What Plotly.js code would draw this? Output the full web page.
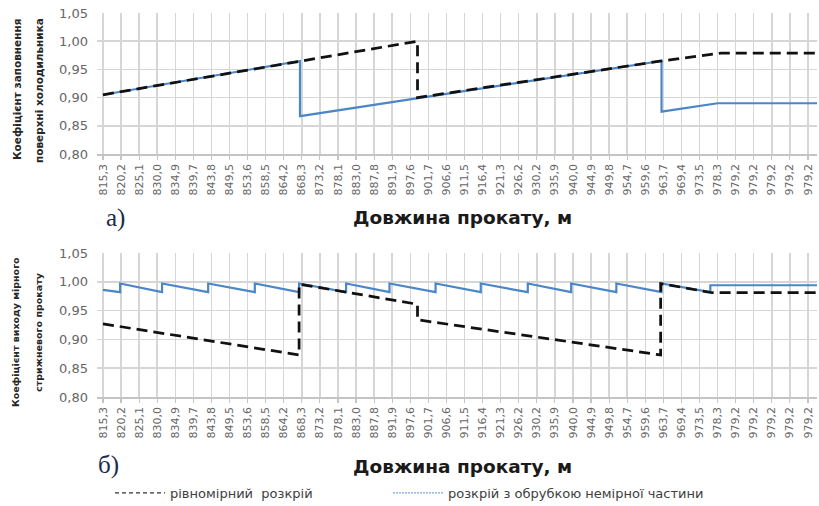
<!DOCTYPE html>
<html>
<head>
<meta charset="utf-8">
<script src="https://cdn.plot.ly/plotly-3.0.1.min.js"></script>
<style>html,body{margin:0;padding:0;background:#fff;}#chart{width:819px;height:506px;}</style>
</head>
<body>
<div id="chart"></div>
<script>
// Category tick labels (length of rolled stock, m)
const tickLabels = ['815,3','820,2','825,1','830,0','834,9','839,7','843,8','849,5','853,6','858,5',
  '864,2','868,3','873,2','878,1','883,0','887,8','891,9','897,6','901,7','906,6',
  '911,5','916,4','921,3','926,2','930,2','935,9','940,0','944,9','949,8','954,7',
  '959,6','963,7','969,4','973,5','978,3','979,2','979,2','979,2','979,2','979,2'];
const tickPos = tickLabels.map((_, i) => i);

// a) Fill factor of cooler surface — positions in category units
const aUniformX = [0, 17.4, 17.4, 30.9, 34.2, 39.5];
const aUniformY = [0.905, 1.000, 0.900, 0.965, 0.979, 0.979];
const aTrimX = [0, 10.9, 10.9, 30.9, 30.9, 34.0, 39.5];
const aTrimY = [0.905, 0.965, 0.867, 0.965, 0.875, 0.890, 0.890];

// b) Yield factor of measured bar stock
const bUniformX = [0, 10.85, 10.85, 17.4, 17.4, 30.85, 30.85, 33.7, 39.5];
const bUniformY = [0.927, 0.873, 0.996, 0.961, 0.934, 0.873, 0.997, 0.981, 0.981];
const bTrimX = [0, 0.95, 0.95, 3.27, 3.27, 5.82, 5.82, 8.4, 8.4, 10.85, 10.85, 13.45, 13.45,
  15.85, 15.85, 18.4, 18.4, 20.9, 20.9, 23.5, 23.5, 25.9, 25.9, 28.4, 28.4, 30.9, 30.9, 33.6, 33.6, 39.5];
const bTrimY = [0.986, 0.982, 0.997, 0.982, 0.997, 0.982, 0.997, 0.982, 0.997, 0.982, 0.997, 0.982, 0.997,
  0.982, 0.997, 0.982, 0.997, 0.982, 0.997, 0.982, 0.997, 0.982, 0.997, 0.982, 0.997, 0.982, 0.997, 0.982, 0.994, 0.994];

const seriesNames = ['рівномірний  розкрій', 'розкрій з обрубкою немірної частини'];
const yTickVals = [0.80, 0.85, 0.90, 0.95, 1.00, 1.05];

const BLUE = '#4a86c8';
const BLACK = '#111111';
const dashLine = {color: BLACK, width: 2.75, dash: '11px,6px'};
const blueLine = {color: BLUE, width: 2.2};

const traces = [
  {x: aTrimX, y: aTrimY, xaxis: 'x', yaxis: 'y', mode: 'lines', line: blueLine, showlegend: false, hoverinfo: 'skip'},
  {x: aUniformX, y: aUniformY, xaxis: 'x', yaxis: 'y', mode: 'lines', line: dashLine, showlegend: false, hoverinfo: 'skip'},
  {x: bTrimX, y: bTrimY, xaxis: 'x2', yaxis: 'y2', mode: 'lines', line: blueLine, showlegend: false, hoverinfo: 'skip'},
  {x: bUniformX, y: bUniformY, xaxis: 'x2', yaxis: 'y2', mode: 'lines', line: dashLine, showlegend: false, hoverinfo: 'skip'},
  {x: [null], y: [null], xaxis: 'x2', yaxis: 'y2', mode: 'lines', name: seriesNames[0], legend: 'legend',
   line: {color: '#333', width: 1.3, dash: '4px,3px'}},
  {x: [null], y: [null], xaxis: 'x2', yaxis: 'y2', mode: 'lines', name: seriesNames[1], legend: 'legend2',
   line: {color: '#7da6d8', width: 1.3, dash: '2px,1px'}}
];

const FONT = 'DejaVu Sans, Liberation Sans, Arial, sans-serif';
const xCommon = {
  range: [-0.33, 39.5], tickvals: tickPos, ticktext: tickLabels, tickangle: -90,
  showgrid: true, gridcolor: '#d6d6d6', gridwidth: 1.5, zeroline: false,
  showline: true, linecolor: '#c4c4c4', linewidth: 1.5,
  ticks: 'outside', ticklen: 4, tickcolor: '#c4c4c4', tickwidth: 1.2,
  tickfont: {family: FONT, size: 11, color: '#666666'}, fixedrange: true
};
const yCommon = {
  range: [0.80, 1.05], tickvals: yTickVals, tickformat: '.2f',
  showgrid: true, gridcolor: '#d6d6d6', gridwidth: 1.5, zeroline: false, showline: false,
  ticks: '', ticklabelstandoff: 8,
  tickfont: {family: FONT, size: 13, color: '#666666'}, fixedrange: true
};

// helpers for paper coordinates from pixel positions
const L = 97, T = 13, W = 720, H = 384;
const px = v => (v - L) / W;
const py = v => (T + H - v) / H;

const titleFont = {family: FONT, size: 18.5, color: '#1a1a1a'};
const yTitleFont = {family: FONT, size: 10.5, color: '#262626'};
const letterFont = {family: 'Liberation Serif, DejaVu Serif, serif', size: 25, color: '#1c2a4a'};

const ann = (text, x, y, font, angle) => ({
  text: text, xref: 'paper', yref: 'paper', x: px(x), y: py(y),
  xanchor: 'center', yanchor: 'middle', showarrow: false, font: font, textangle: angle || 0
});

const legendBase = {
  orientation: 'h', xref: 'container', yref: 'container', y: (506 - 493) / 506,
  xanchor: 'left', yanchor: 'middle', itemwidth: 50,
  font: {family: FONT, size: 13, color: '#404040'}, bgcolor: 'rgba(0,0,0,0)'
};

const layout = {
  width: 819, height: 506,
  margin: {l: L, r: 2, t: T, b: 506 - T - H},
  paper_bgcolor: '#ffffff', plot_bgcolor: '#ffffff',
  separators: ', ',
  showlegend: true,
  legend: Object.assign({}, legendBase, {x: 110 / 819}),
  legend2: Object.assign({}, legendBase, {x: 388 / 819}),
  xaxis: Object.assign({}, xCommon, {anchor: 'y', domain: [0, 1]}),
  yaxis: Object.assign({}, yCommon, {anchor: 'x', domain: [py(154), 1]}),
  xaxis2: Object.assign({}, xCommon, {anchor: 'y2', domain: [0, 1]}),
  yaxis2: Object.assign({}, yCommon, {anchor: 'x2', domain: [0, py(253)]}),
  annotations: [
    ann('<b>Коефіцієнт заповнення</b>', 17, 90, yTitleFont, -90),
    ann('<b>поверхні холодильника</b>', 39, 90, yTitleFont, -90),
    ann('<b>Коефіцієнт виходу мірного</b>', 15, 332, Object.assign({}, yTitleFont, {size: 9.5}), -90),
    ann('<b>стрижневого прокату</b>', 38, 332, Object.assign({}, yTitleFont, {size: 9.5}), -90),
    ann('а)', 115, 218, letterFont),
    ann('б)', 108, 465, letterFont),
    ann('<b>Довжина прокату, м</b>', 462, 217, titleFont),
    ann('<b>Довжина прокату, м</b>', 462, 466, titleFont)
  ]
};

Plotly.newPlot('chart', traces, layout, {staticPlot: true, displayModeBar: false});
</script>
</body>
</html>
